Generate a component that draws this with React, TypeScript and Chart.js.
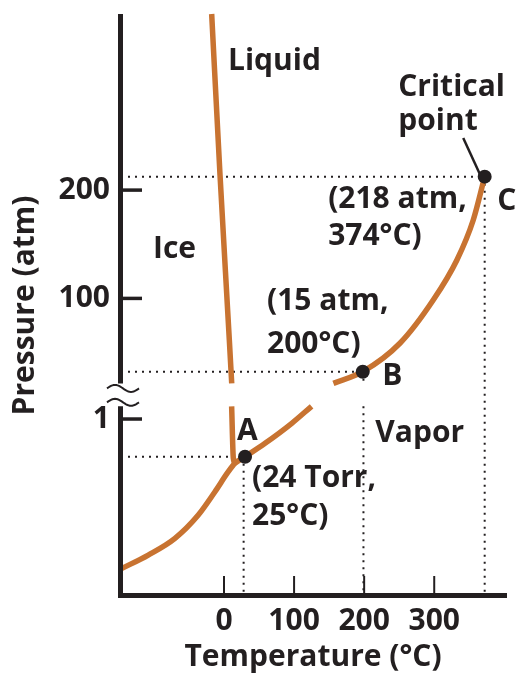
import { useEffect, useRef } from 'react';
import { Chart, registerables } from 'chart.js';

Chart.register(...registerables);

const FONT_FAMILY = '"Open Sans", "DejaVu Sans", sans-serif';
const INK = '#231f20';
const ORANGE = '#c87331';

// ---- axis ranges ----
const T_MIN = -147;
const T_MAX = 401;
const P_MIN = -175.7;
const P_MAX = 362.6;
const LOWLOG_MIN = -6.675;
const LOWLOG_MAX = 15.19;
const LOW_MIN = Math.pow(10, LOWLOG_MIN);
const LOW_MAX = Math.pow(10, LOWLOG_MAX);
const BREAK_UP = 21.5; // atm, upper section end
const BREAK_LOW = 3; // atm, lower section end

// ---- tick labels ----
const tempTicks = [0, 100, 200, 300];
const pressureTicks = [100, 200];
const lowPressureTicks = [1];

// ---- curves (°C, atm) ----
const fusionUpperT = [-17.6, -5.7, 7.6, 11];
const fusionUpperP = [362.6, 214, 61.6, BREAK_UP];
const fusionLowerT = [10.9, 13.3, 15.7];
const fusionLowerP = [BREAK_LOW, 0.0336, 0.0218];
const vaporLowerT = [-147, -108.1, -70, -36.7, -12.9, 6.1, 15.7, 30, 58.6, 96.7, 125];
const vaporLowerP = [2.4e-6, 7.93e-6, 3.35e-5, 2.51e-4, 1.87e-3, 0.01054, 0.0218, 0.0385, 0.1227, 0.69, BREAK_LOW];
const vaporUpperT = [156.1, 198, 251.4, 298.6, 332.4, 355.7, 372];
const vaporUpperP = [BREAK_UP, 32.3, 58.8, 98.5, 135.5, 172.4, 212.4];

// ---- marked points ----
const pointNames = ['A', 'B', 'C'];
const pointT = [30, 198, 372];
const pointP = [0.0385, 32.3, 212.4];

// pointer from "Critical point" label to C
const pointerT = [341.4, 365.7];
const pointerP = [248.1, 213.9];

const zip = (xs: number[], ys: number[]) => xs.map((x, i) => ({ x, y: ys[i] }));

const lowToUp = (p: number) =>
  P_MIN + ((Math.log10(p) - LOWLOG_MIN) / (LOWLOG_MAX - LOWLOG_MIN)) * (P_MAX - P_MIN);

type Note = { text: string; t: number; p: number; axis: 'y' | 'yLow' };
const notes: Note[] = [
  { text: 'Liquid', t: 5.7, p: 311, axis: 'y' },
  { text: 'Critical', t: 248.6, p: 287, axis: 'y' },
  { text: 'point', t: 248.6, p: 255.5, axis: 'y' },
  { text: '(218 atm,', t: 148.6, p: 183.5, axis: 'y' },
  { text: '374°C)', t: 148.6, p: 149.3, axis: 'y' },
  { text: 'C', t: 390, p: 181.6, axis: 'y' },
  { text: 'Ice', t: -101.4, p: 137.3, axis: 'y' },
  { text: '(15 atm,', t: 61.4, p: 89.3, axis: 'y' },
  { text: '200°C)', t: 61.4, p: 49.6, axis: 'y' },
  { text: 'B', t: 225.7, p: 20, axis: 'y' },
  { text: 'Vapor', t: 216, p: 0.137, axis: 'yLow' },
  { text: 'A', t: 18.6, p: 0.163, axis: 'yLow' },
  { text: '(24 Torr,', t: 40, p: 2.82e-3, axis: 'yLow' },
  { text: '25°C)', t: 40, p: 1.06e-4, axis: 'yLow' },
];

const decorPlugin = {
  id: 'phaseDecor',
  afterDatasetsDraw(chart: any) {
    const { ctx, chartArea, scales } = chart;
    const x = scales.x;
    const y = scales.y;
    const yLow = scales.yLow;
    const left = chartArea.left;
    const bottom = chartArea.bottom;
    const breakTop = y.getPixelForValue(BREAK_UP);
    const breakBottom = yLow.getPixelForValue(BREAK_LOW);
    ctx.save();
    ctx.strokeStyle = INK;
    ctx.lineCap = 'butt';
    // y axis (broken)
    ctx.lineWidth = 5;
    ctx.beginPath();
    ctx.moveTo(left - 0.5, chartArea.top);
    ctx.lineTo(left - 0.5, breakTop);
    ctx.moveTo(left - 0.5, breakBottom);
    ctx.lineTo(left - 0.5, bottom);
    ctx.stroke();
    // x axis
    ctx.beginPath();
    ctx.moveTo(left - 3, bottom - 1.5);
    ctx.lineTo(chartArea.right + 2, bottom - 1.5);
    ctx.stroke();
    // break marks
    ctx.lineWidth = 2;
    [breakTop + 5, breakBottom - 4].forEach((yc) => {
      ctx.beginPath();
      for (let i = 0; i <= 24; i++) {
        const f = i / 24;
        const px = left - 14 + 32 * f;
        const py = yc - 3.5 * Math.sin(2 * Math.PI * f);
        if (i === 0) ctx.moveTo(px, py);
        else ctx.lineTo(px, py);
      }
      ctx.stroke();
    });
    // inward ticks
    ctx.lineWidth = 3.5;
    y.ticks.forEach((tk: any) => {
      const py = y.getPixelForValue(tk.value);
      ctx.beginPath();
      ctx.moveTo(left, py);
      ctx.lineTo(left + 21, py);
      ctx.stroke();
    });
    ctx.lineWidth = 2;
    x.ticks.forEach((tk: any) => {
      const px = x.getPixelForValue(tk.value);
      ctx.beginPath();
      ctx.moveTo(px, bottom - 21);
      ctx.lineTo(px, bottom - 3);
      ctx.stroke();
    });
    // annotations
    ctx.fillStyle = INK;
    ctx.font = `bold 30px ${FONT_FAMILY}`;
    ctx.textAlign = 'left';
    ctx.textBaseline = 'alphabetic';
    notes.forEach((n) => {
      const sc = n.axis === 'y' ? y : yLow;
      ctx.fillText(n.text, x.getPixelForValue(n.t), sc.getPixelForValue(n.p));
    });
    ctx.restore();
  },
};

export default function App() {
  const ref = useRef<HTMLCanvasElement | null>(null);
  useEffect(() => {
    if (!ref.current) return;
    const font = { family: FONT_FAMILY, size: 30, weight: 'bold' as const };
    const curve = (data: any[], axis: string) => ({
      data,
      yAxisID: axis,
      borderColor: ORANGE,
      borderWidth: 5.5,
      pointRadius: 0,
      cubicInterpolationMode: 'monotone' as const,
      fill: false,
      clip: false as any,
      order: 2,
    });
    const dotted = (data: any[], axis: string) => ({
      data,
      yAxisID: axis,
      borderColor: INK,
      borderWidth: 2,
      borderDash: [2, 5],
      pointRadius: 0,
      tension: 0,
      fill: false,
      order: 3,
    });
    const aIdx = 0, bIdx = 1, cIdx = 2;
    const refT = [28, 199, 372]; // dotted guide temperatures
    const chart = new Chart(ref.current, {
      type: 'line',
      data: {
        datasets: [
          {
            label: pointNames[aIdx],
            data: [{ x: pointT[aIdx], y: pointP[aIdx] }],
            yAxisID: 'yLow',
            showLine: false,
            pointRadius: 7,
            pointBackgroundColor: INK,
            pointBorderWidth: 0,
            order: 0,
          } as any,
          {
            label: pointNames[bIdx] + ', ' + pointNames[cIdx],
            data: [bIdx, cIdx].map((i) => ({ x: pointT[i], y: pointP[i] })),
            yAxisID: 'y',
            showLine: false,
            pointRadius: 7,
            pointBackgroundColor: INK,
            pointBorderWidth: 0,
            order: 0,
          } as any,
          {
            data: zip(pointerT, pointerP),
            yAxisID: 'y',
            borderColor: INK,
            borderWidth: 2.5,
            pointRadius: 0,
            order: 1,
          } as any,
          curve(zip(fusionUpperT, fusionUpperP), 'y'),
          curve(zip(fusionLowerT, fusionLowerP), 'yLow'),
          curve(zip(vaporLowerT, vaporLowerP), 'yLow'),
          curve(zip(vaporUpperT, vaporUpperP), 'y'),
          dotted([{ x: T_MIN, y: pointP[cIdx] }, { x: pointT[cIdx], y: pointP[cIdx] }], 'y'),
          dotted([{ x: refT[cIdx], y: pointP[cIdx] }, { x: refT[cIdx], y: P_MIN }], 'y'),
          dotted([{ x: T_MIN, y: pointP[bIdx] }, { x: pointT[bIdx], y: pointP[bIdx] }], 'y'),
          dotted([{ x: refT[bIdx], y: pointP[bIdx] }, { x: refT[bIdx], y: BREAK_UP }], 'y'),
          dotted([{ x: refT[bIdx], y: BREAK_LOW }, { x: refT[bIdx], y: LOW_MIN }], 'yLow'),
          dotted([{ x: T_MIN, y: pointP[aIdx] }, { x: pointT[aIdx], y: pointP[aIdx] }], 'yLow'),
          dotted([{ x: refT[aIdx], y: pointP[aIdx] }, { x: refT[aIdx], y: LOW_MIN }], 'yLow'),
        ] as any,
      },
      options: {
        responsive: false,
        animation: false,
        devicePixelRatio: 1,
        layout: { padding: { top: 14, right: 11, left: 0, bottom: 0 } },
        plugins: { legend: { display: false }, tooltip: { enabled: false } },
        scales: {
          x: {
            type: 'linear',
            min: T_MIN,
            max: T_MAX,
            bounds: 'data',
            afterBuildTicks: (s: any) => {
              s.ticks = tempTicks.map((v) => ({ value: v }));
            },
            afterFit: (s: any) => {
              s.height = 78;
              s.paddingLeft = 0;
              s.paddingRight = 0;
            },
            ticks: {
              font,
              color: INK,
              padding: 6,
              autoSkip: false,
              maxRotation: 0,
              callback: (v: any) => String(v),
            },
            grid: { display: false, drawTicks: false },
            border: { display: false },
            title: {
              display: true,
              text: 'Temperature (°C)',
              font,
              color: INK,
              padding: { top: 0, bottom: 0 },
            },
          },
          y: {
            type: 'linear',
            position: 'left',
            min: P_MIN,
            max: P_MAX,
            bounds: 'data',
            afterBuildTicks: (s: any) => {
              s.ticks = [
                ...lowPressureTicks.map((p) => ({ value: lowToUp(p) })),
                ...pressureTicks.map((v) => ({ value: v })),
              ];
            },
            afterFit: (s: any) => {
              s.width = 121;
              s.paddingTop = 0;
              s.paddingBottom = 0;
            },
            ticks: {
              font,
              color: INK,
              padding: 11,
              autoSkip: false,
              callback: (v: any) => {
                const low = lowPressureTicks.find((p) => Math.abs(lowToUp(p) - v) < 1e-6);
                return low !== undefined ? String(low) : String(v);
              },
            },
            grid: { display: false, drawTicks: false },
            border: { display: false },
            title: {
              display: true,
              text: 'Pressure (atm)',
              font,
              color: INK,
              padding: { top: 7, bottom: 0 },
            },
          },
          yLow: {
            type: 'logarithmic',
            position: 'left',
            display: false,
            min: LOW_MIN,
            max: LOW_MAX,
            bounds: 'data',
          },
        } as any,
      },
      plugins: [decorPlugin],
    });
    return () => chart.destroy();
  }, []);
  return (
    <div style={{ position: 'absolute', left: 0, top: 0, width: 516, height: 675 }}>
      <canvas ref={ref} width={516} height={675} style={{ display: 'block' }} />
    </div>
  );
}
